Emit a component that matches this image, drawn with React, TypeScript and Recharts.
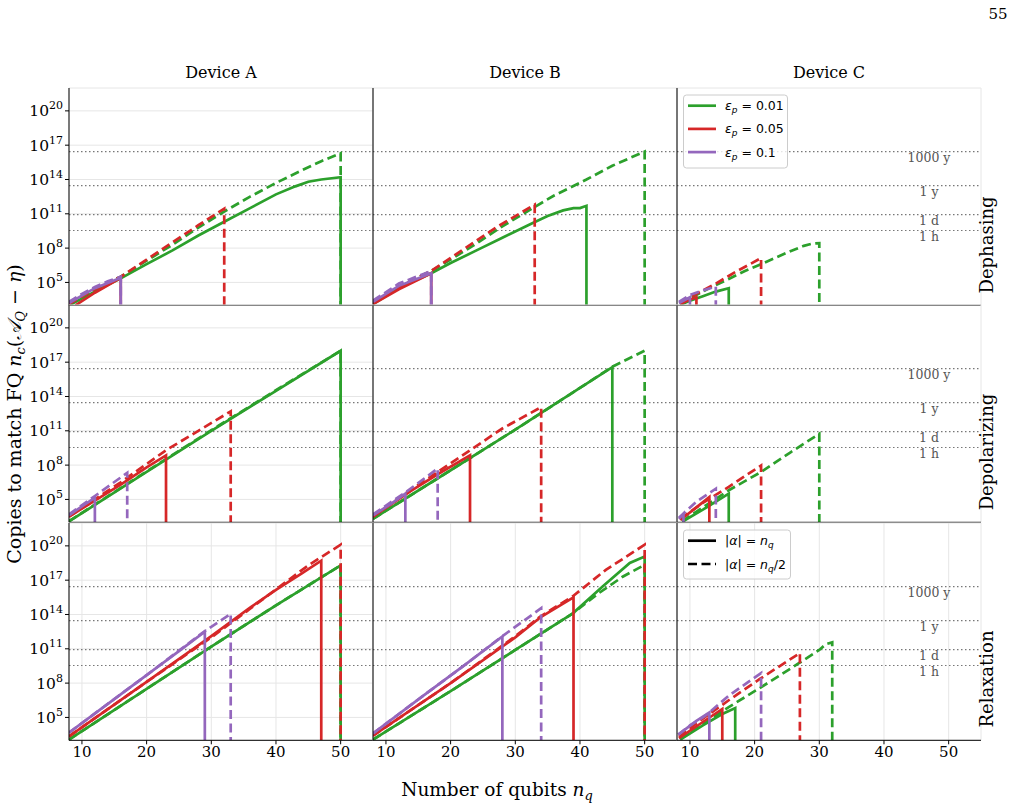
import React from 'react';
import { LineChart, Line, XAxis, YAxis, CartesianGrid, ReferenceLine } from 'recharts';

type Pt = [number, number];
interface Series {
    eps: number; // index into EPS
    half: boolean; // |alpha| = n_q/2 (dashed)
    pts: Pt[]; // [n_q, log10 copies]
}

const EPS = ['0.01', '0.05', '0.1'];
const COLORS = ['#2ca02c', '#d62728', '#9467bd'];
const DEVICES = ['Device A', 'Device B', 'Device C'];
const NOISES = ['Dephasing', 'Depolarizing', 'Relaxation'];
const X_TICKS = [10, 20, 30, 40, 50];
const Y_TICKS = [5, 8, 11, 14, 17, 20]; // exponents of 10
const Y_MIN = 3;
const Y_MAX = 22;

// wall-clock thresholds, log10 copies
const TIME_LABELS = ['1000 y', '1 y', '1 d', '1 h'];
const TIME_VALUES = [16.44, 13.46, 10.92, 9.54];

// ---- Dephasing ----
const dephasingA: Series[] = [
    { eps: 0, half: false, pts: [[8, 3.0], [10, 3.6], [12, 4.2], [14, 4.8], [16, 5.35], [20, 6.6], [24, 7.8], [28, 9.1], [32, 10.3], [36, 11.5], [40, 12.7], [43, 13.4], [45, 13.8], [47, 14.0], [50, 14.2]] },
    { eps: 0, half: true, pts: [[8, 3.1], [12, 4.4], [16, 5.5], [20, 6.9], [24, 8.3], [28, 9.8], [32, 11.2], [36, 12.5], [40, 13.7], [44, 14.8], [47, 15.6], [50, 16.3]] },
    { eps: 1, half: false, pts: [[9, 3.0], [12, 4.1], [16, 5.4]] },
    { eps: 1, half: true, pts: [[8, 3.1], [12, 4.4], [16, 5.5], [20, 7.0], [24, 8.5], [28, 10.0], [32, 11.45]] },
    { eps: 2, half: false, pts: [[8, 3.2], [12, 4.5], [16, 5.4]] },
    { eps: 2, half: true, pts: [[8, 3.3], [10, 4.0], [12, 4.6], [14, 5.1], [16, 5.5]] },
];
const dephasingB: Series[] = [
    { eps: 0, half: false, pts: [[8, 3.1], [12, 4.5], [17, 5.8], [20, 6.7], [24, 7.8], [28, 8.9], [32.7, 10.2], [35, 10.8], [37.4, 11.3], [39, 11.5], [40, 11.5], [41, 11.7]] },
    { eps: 0, half: true, pts: [[8, 3.2], [12, 4.6], [17, 6.0], [20, 7.0], [24, 8.4], [28, 9.9], [32.7, 11.5], [36, 12.6], [41, 14.0], [45, 15.2], [50, 16.45]] },
    { eps: 1, half: false, pts: [[8, 3.1], [12, 4.4], [17, 5.8]] },
    { eps: 1, half: true, pts: [[8, 3.2], [12, 4.6], [17, 6.0], [22, 7.9], [27, 9.8], [33, 11.8]] },
    { eps: 2, half: false, pts: [[8, 3.3], [12, 4.7], [17, 5.8]] },
    { eps: 2, half: true, pts: [[8, 3.4], [12, 4.9], [17, 6.0]] },
];
const dephasingC: Series[] = [
    { eps: 0, half: false, pts: [[8.5, 3.05], [10, 3.4], [12, 3.8], [14, 4.2], [16, 4.5]] },
    { eps: 0, half: true, pts: [[8.5, 3.1], [10, 3.6], [13, 4.5], [16, 5.3], [18.5, 6.0], [20.8, 6.55], [23, 7.1], [25, 7.6], [27.6, 8.2], [29, 8.4], [30, 8.44]] },
    { eps: 1, half: false, pts: [[8.5, 3.1], [10, 3.5], [11, 3.7]] },
    { eps: 1, half: true, pts: [[8.5, 3.2], [11, 4.0], [14, 4.9], [17, 5.9], [21, 7.13]] },
    { eps: 2, half: false, pts: [[8.3, 3.2], [10, 3.7]] },
    { eps: 2, half: true, pts: [[8.3, 3.3], [10, 3.9], [12, 4.3], [14, 4.65]] },
];

// ---- Depolarizing ----
const depolarizingA: Series[] = [
    { eps: 0, half: false, pts: [[8, 3.08], [20, 7.4], [30, 11.0], [40, 14.5], [50, 18.0]] },
    { eps: 0, half: true, pts: [[8, 3.1], [20, 7.45], [30, 11.05], [40, 14.55], [50, 18.0]] },
    { eps: 1, half: false, pts: [[8, 3.5], [12, 4.9], [16, 6.3], [20, 7.8], [23, 8.85]] },
    { eps: 1, half: true, pts: [[8, 3.5], [12, 5.0], [16, 6.5], [20, 8.1], [23, 9.3], [28, 11.0], [33, 12.7]] },
    { eps: 2, half: false, pts: [[8, 3.6], [10, 4.4], [12, 5.15]] },
    { eps: 2, half: true, pts: [[8, 3.7], [12, 5.3], [17, 7.33]] },
];
const depolarizingB: Series[] = [
    { eps: 0, half: false, pts: [[8, 3.3], [20, 7.55], [30, 11.1], [40, 14.75], [45, 16.57]] },
    { eps: 0, half: true, pts: [[8, 3.3], [20, 7.55], [30, 11.1], [40, 14.75], [45, 16.6], [50, 18.0]] },
    { eps: 1, half: false, pts: [[8, 3.5], [14, 5.8], [18, 7.2], [23, 8.85]] },
    { eps: 1, half: true, pts: [[8, 3.5], [14, 5.9], [18, 7.4], [23, 9.3], [28, 11.2], [34, 13.07]] },
    { eps: 2, half: false, pts: [[8, 3.6], [11, 4.7], [13, 5.5]] },
    { eps: 2, half: true, pts: [[8, 3.7], [13, 5.6], [18, 7.7]] },
];
const depolarizingC: Series[] = [
    { eps: 0, half: false, pts: [[8.8, 3.05], [12, 4.1], [16, 5.5]] },
    { eps: 0, half: true, pts: [[8.8, 3.1], [12, 4.3], [16, 5.8], [21, 7.4], [25.5, 9.1], [30, 10.74]] },
    { eps: 1, half: false, pts: [[8.5, 3.2], [11, 4.3], [13, 5.2]] },
    { eps: 1, half: true, pts: [[8.5, 3.3], [12, 4.7], [16, 6.1], [21, 7.97]] },
    { eps: 2, half: false, pts: [[8.3, 3.3], [9, 3.75]] },
    { eps: 2, half: true, pts: [[8.3, 3.4], [11, 4.8], [14, 5.94]] },
];

// ---- Relaxation ----
const relaxationA: Series[] = [
    { eps: 0, half: false, pts: [[8, 3.06], [20, 7.5], [30, 11.2], [40, 14.8], [50, 18.3]] },
    { eps: 0, half: true, pts: [[8, 3.06], [20, 7.5], [30, 11.2], [40, 14.8], [50, 18.3]] },
    { eps: 1, half: false, pts: [[8, 3.35], [20, 8.1], [30, 12.1], [36, 14.6], [40, 16.16], [44, 17.6], [47, 18.7]] },
    { eps: 1, half: true, pts: [[8, 3.35], [20, 8.1], [30, 12.0], [36, 14.5], [40, 16.2], [45, 18.3], [50, 20.1]] },
    { eps: 2, half: false, pts: [[8, 3.67], [15, 6.6], [20, 8.7], [25, 10.8], [29, 12.5]] },
    { eps: 2, half: true, pts: [[8, 3.67], [20, 8.7], [29, 12.55], [33, 14.06]] },
];
const relaxationB: Series[] = [
    { eps: 0, half: false, pts: [[8, 3.06], [20, 7.3], [30, 10.9], [38.9, 14.1], [43.5, 16.45], [47.7, 18.5], [50, 19.07]] },
    { eps: 0, half: true, pts: [[8, 3.06], [20, 7.3], [30, 10.9], [38.9, 14.1], [43, 15.9], [46.6, 17.3], [50, 18.34]] },
    { eps: 1, half: false, pts: [[8, 3.4], [20, 8.0], [30, 12.0], [34, 13.8], [39, 15.5]] },
    { eps: 1, half: true, pts: [[8, 3.4], [20, 8.0], [30, 12.1], [33.8, 13.8], [38.9, 15.6], [44, 17.9], [50, 20.1]] },
    { eps: 2, half: false, pts: [[8, 3.6], [16, 7.0], [22, 9.5], [28, 12.08]] },
    { eps: 2, half: true, pts: [[8, 3.6], [16, 7.0], [22, 9.5], [28, 12.1], [34, 14.55]] },
];
const relaxationC: Series[] = [
    { eps: 0, half: false, pts: [[8.5, 3.05], [12, 4.3], [15, 5.3], [17, 5.82]] },
    { eps: 0, half: true, pts: [[8.5, 3.1], [12, 4.4], [16, 5.9], [20.8, 7.57], [26.9, 9.76], [30, 10.9], [31, 11.4], [32, 11.56]] },
    { eps: 1, half: false, pts: [[8.3, 3.2], [12, 4.6], [15, 5.74]] },
    { eps: 1, half: true, pts: [[8.3, 3.3], [12, 4.9], [16, 6.5], [20.8, 8.36], [27, 10.63]] },
    { eps: 2, half: false, pts: [[8.2, 3.5], [11, 4.7], [13, 5.44]] },
    { eps: 2, half: true, pts: [[8.2, 3.5], [10, 4.3], [12.3, 5.1], [16, 6.9], [21, 8.88]] },
];

const PANELS: Series[][][] = [
    [dephasingA, dephasingB, dephasingC],
    [depolarizingA, depolarizingB, depolarizingC],
    [relaxationA, relaxationB, relaxationC],
];

// layout
const PLOT_LEFT = [69, 373, 677];
const PLOT_TOP = [88, 305.3, 522.7];
const PLOT_W = 304;
const PLOT_H = 217.3;
const SERIF = 'DejaVu Serif';
const SANS = 'DejaVu Sans';

const YTick = (props: any) => {
    const { x, y, payload } = props;
    return (
        <text x={x} y={y + 5.5} textAnchor="end" fontFamily={SERIF} fontSize={15.5} fill="#000">
            10<tspan dy={-7} fontSize={11}>{payload.value}</tspan>
        </text>
    );
};

const TimeLabel = (props: any) => {
    const vb = props.viewBox || {};
    return (
        <text x={vb.x + vb.width - 52} y={vb.y + 10.5} textAnchor="middle" fontFamily={SERIF} fontSize={12.5} fill="#555">
            {props.text}
        </text>
    );
};

const Panel = ({ r, c }: { r: number; c: number }) => {
    const yw = c === 0 ? 66 : 8;
    const xh = r === 2 ? 30 : 8;
    const series = PANELS[r][c];
    return (
        <div style={{ position: 'absolute', left: PLOT_LEFT[c] - yw, top: PLOT_TOP[r] - 2 }}>
            <LineChart
                width={yw + PLOT_W + 2}
                height={2 + PLOT_H + xh}
                margin={{ top: 2, right: 2, bottom: 0, left: 0 }}
            >
                <CartesianGrid stroke="#e6e6e6" strokeWidth={1} />
                <XAxis
                    type="number"
                    dataKey="n"
                    domain={[8, 55]}
                    ticks={X_TICKS}
                    allowDataOverflow
                    height={xh}
                    tickSize={4}
                    stroke="#000"
                    tick={r === 2 ? { fill: '#000', fontSize: 15, fontFamily: SERIF } : false}
                />
                <YAxis
                    type="number"
                    domain={[Y_MIN, Y_MAX]}
                    ticks={Y_TICKS}
                    allowDataOverflow
                    width={yw}
                    tickSize={4}
                    stroke="#000"
                    tick={c === 0 ? <YTick /> : false}
                />
                {TIME_VALUES.map((v, i) => (
                    <ReferenceLine
                        key={'t' + i}
                        y={v}
                        stroke="#777"
                        strokeWidth={1.2}
                        strokeDasharray="1.5 2.5"
                        label={c === 2 ? <TimeLabel text={TIME_LABELS[i]} /> : undefined}
                    />
                ))}
                {series.map((s, i) => {
                    const last = s.pts[s.pts.length - 1];
                    const data = [...s.pts.map(([n, v]) => ({ n, v })), { n: last[0], v: Y_MIN }];
                    return (
                        <Line
                            key={i}
                            data={data}
                            dataKey="v"
                            type="linear"
                            stroke={COLORS[s.eps]}
                            strokeWidth={2.7}
                            strokeDasharray={s.half ? '9 4.5' : undefined}
                            dot={false}
                            activeDot={false}
                            isAnimationActive={false}
                        />
                    );
                })}
            </LineChart>
        </div>
    );
};

const Overlay = () => (
    <svg width={1015} height={808} style={{ position: 'absolute', left: 0, top: 0, pointerEvents: 'none' }}>
        <text x={998} y={19} textAnchor="middle" fontFamily={SERIF} fontSize={15}>55</text>
        {DEVICES.map((d, i) => (
            <text key={d} x={PLOT_LEFT[i] + PLOT_W / 2} y={78} textAnchor="middle" fontFamily={SERIF} fontSize={16}>
                {d}
            </text>
        ))}
        {NOISES.map((nm, i) => (
            <text
                key={nm}
                transform={`translate(993, ${[245, 452, 679][i]}) rotate(-90)`}
                textAnchor="middle"
                fontFamily={SERIF}
                fontSize={18}
            >
                {nm}
            </text>
        ))}
        <text transform="translate(21, 414) rotate(-90)" textAnchor="middle" fontFamily={SERIF} fontSize={19}>
            Copies to match FQ <tspan fontStyle="italic">n</tspan>
            <tspan dy={4} fontSize={13} fontStyle="italic">c</tspan>
            <tspan dy={-4}>(</tspan>
            <tspan fontStyle="italic">𝒜</tspan>
            <tspan dy={4} fontSize={13} fontStyle="italic">Q</tspan>
            <tspan dy={-4}> − </tspan>
            <tspan fontStyle="italic">η</tspan>)
        </text>
        <text x={497} y={796} textAnchor="middle" fontFamily={SERIF} fontSize={18.5}>
            Number of qubits <tspan fontStyle="italic">n</tspan>
            <tspan dy={4} fontSize={13} fontStyle="italic">q</tspan>
        </text>

        {/* legend: error rates */}
        <rect x={683.5} y={95} width={104} height={73} rx={3} fill="#fff" fillOpacity={0.8} stroke="#ccc" />
        {EPS.map((e, i) => {
            const y = 105.7 + 23.2 * i;
            return (
                <g key={e}>
                    <line x1={688} x2={716} y1={y} y2={y} stroke={COLORS[i]} strokeWidth={2.7} />
                    <text x={725} y={y + 4.5} fontFamily={SANS} fontSize={12.5}>
                        <tspan fontStyle="italic">ε</tspan>
                        <tspan dy={3} fontSize={9} fontStyle="italic">p</tspan>
                        <tspan dy={-3}> = {e}</tspan>
                    </text>
                </g>
            );
        })}

        {/* legend: weight */}
        <rect x={683.5} y={530} width={107} height={49} rx={3} fill="#fff" fillOpacity={0.8} stroke="#ccc" />
        <line x1={688} x2={716} y1={540.7} y2={540.7} stroke="#000" strokeWidth={2.7} />
        <text x={725} y={545.2} fontFamily={SANS} fontSize={12.5}>
            |<tspan fontStyle="italic">α</tspan>| = <tspan fontStyle="italic">n</tspan>
            <tspan dy={3} fontSize={9} fontStyle="italic">q</tspan>
        </text>
        <line x1={688} x2={716} y1={564} y2={564} stroke="#000" strokeWidth={2.7} strokeDasharray="9 4.5" />
        <text x={725} y={568.5} fontFamily={SANS} fontSize={12.5}>
            |<tspan fontStyle="italic">α</tspan>| = <tspan fontStyle="italic">n</tspan>
            <tspan dy={3} fontSize={9} fontStyle="italic">q</tspan>
            <tspan dy={-3}>/2</tspan>
        </text>
    </svg>
);

export default function App() {
    return (
        <div style={{ position: 'relative', width: 1015, height: 808, background: '#fff', fontFamily: SERIF }}>
            <style>{'body{margin:0}'}</style>
            {[0, 1, 2].map((r) => [0, 1, 2].map((c) => <Panel key={`${r}-${c}`} r={r} c={c} />))}
            <Overlay />
        </div>
    );
}
